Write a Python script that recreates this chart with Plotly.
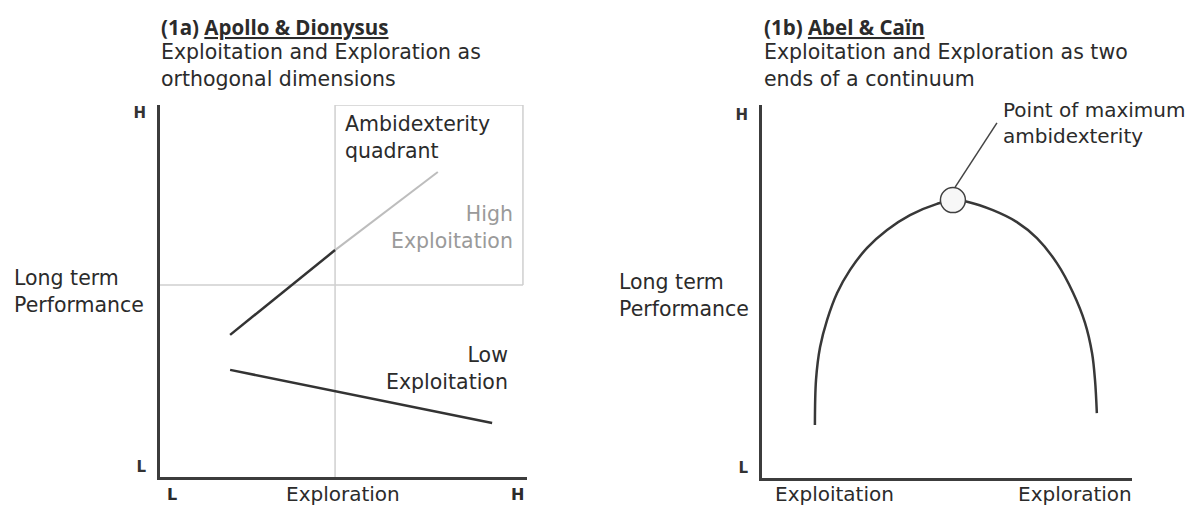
import plotly.graph_objects as go

W, H = 1202, 505
# the page body keeps the browser's default 8px margin, so the figure is
# made that much smaller and every position is measured from the window
OFF = 8
FW, FH = W - OFF, H - OFF

# Panel 1a: Apollo & Dionysus (units: L = 0, H = 10)
explore_rise_x = [1.91, 4.77]
explore_rise_y = [3.82, 6.10]
explore_rise_ext_x = [4.77, 7.57]
explore_rise_ext_y = [6.10, 8.20]
low_exploit_x = [1.91, 9.05]
low_exploit_y = [2.88, 1.45]
quad_split_x = 4.77
quad_split_y = 5.16
quad_right = 9.89
quad_top = 10.0

# Panel 1b: Abel & Cain (inverted U)
arc_x = [1.43, 1.46, 1.57, 1.76, 2.03, 2.38, 2.84, 3.38, 4.00, 4.73, 5.16,
         5.57, 6.24, 6.89, 7.43, 7.97, 8.41, 8.73, 8.92, 9.00, 9.05]
arc_y = [1.42, 2.63, 3.51, 4.24, 4.96, 5.58, 6.17, 6.65, 7.05, 7.35, 7.45,
         7.40, 7.18, 6.86, 6.43, 5.76, 4.96, 4.16, 3.35, 2.63, 1.74]
peak_x, peak_y = 5.16, 7.45
leader_x = [5.22, 6.35]
leader_y = [7.80, 9.52]

# Tick labels
lh_ticks = ["<b>L</b>", "<b>H</b>"]
left_y_vals = [0.27, 9.78]
left_x_vals = [0.33, 4.98, 9.73]
left_x_text = ["<b><span style='font-size:16px'>L</span></b>", "Exploration",
               "<b><span style='font-size:16px'>H</span></b>"]
right_y_vals = [0.27, 9.73]
right_x_vals = [1.95, 8.46]
right_x_text = ["Exploitation", "Exploration"]

FONT = "DejaVu Sans"
TFONT = "Open Sans"
SIZE = 20.5
DARK = "#2b2b2b"
AXIS = "#3c3c3c"
GRID = "#cfcfcf"


def pxx(x):
    return (x - OFF) / FW


def pxy(y):
    return 1 - (y - OFF) / FH


fig = go.Figure()

# quadrant guides (1a)
gray = dict(color=GRID, width=1.5)
fig.add_trace(go.Scatter(x=[quad_split_x, quad_split_x], y=[0, quad_top], mode="lines",
                         line=gray, xaxis="x", yaxis="y", cliponaxis=False))
fig.add_trace(go.Scatter(x=[0, quad_right], y=[quad_split_y, quad_split_y], mode="lines",
                         line=gray, xaxis="x", yaxis="y", cliponaxis=False))
fig.add_trace(go.Scatter(x=[quad_split_x, quad_right, quad_right],
                         y=[quad_top, quad_top, quad_split_y], mode="lines",
                         line=gray, xaxis="x", yaxis="y", cliponaxis=False))

fig.add_trace(go.Scatter(x=explore_rise_ext_x, y=explore_rise_ext_y, mode="lines",
                         line=dict(color="#bdbdbd", width=2), xaxis="x", yaxis="y"))
fig.add_trace(go.Scatter(x=explore_rise_x, y=explore_rise_y, mode="lines",
                         line=dict(color="#333333", width=2.5), xaxis="x", yaxis="y"))
fig.add_trace(go.Scatter(x=low_exploit_x, y=low_exploit_y, mode="lines",
                         line=dict(color="#333333", width=2.5), xaxis="x", yaxis="y"))

# inverted U (1b)
fig.add_trace(go.Scatter(x=arc_x, y=arc_y, mode="lines", line_shape="spline",
                         line=dict(color="#383838", width=2.5), xaxis="x2", yaxis="y2"))
fig.add_trace(go.Scatter(x=leader_x, y=leader_y, mode="lines",
                         line=dict(color="#444444", width=1.5), xaxis="x2", yaxis="y2",
                         cliponaxis=False))
fig.add_trace(go.Scatter(x=[peak_x], y=[peak_y], mode="markers",
                         marker=dict(size=25, color="#f7f7f7",
                                     line=dict(color="#404040", width=1.5)),
                         xaxis="x2", yaxis="y2"))

axis_common = dict(showgrid=False, zeroline=False, showline=True, linecolor=AXIS,
                   linewidth=3, ticks="", range=[0, 10], fixedrange=True,
                   tickfont=dict(family=FONT, size=15, color="#333333"))

fig.update_layout(
    width=FW, height=FH,
    margin=dict(l=0, r=0, t=0, b=0),
    paper_bgcolor="white", plot_bgcolor="white",
    showlegend=False,
    font=dict(family=FONT, size=SIZE, color=DARK),
    xaxis=dict(axis_common, domain=[pxx(160), pxx(527)], anchor="y", showticklabels=False),
    yaxis=dict(axis_common, domain=[pxy(477), pxy(105)], anchor="x",
               tickvals=left_y_vals, ticktext=lh_ticks, ticklabelstandoff=8),
    xaxis2=dict(axis_common, domain=[pxx(762), pxx(1132)], anchor="y2", showticklabels=False),
    yaxis2=dict(axis_common, domain=[pxy(478), pxy(105)], anchor="x2",
                tickvals=right_y_vals, ticktext=lh_ticks, ticklabelstandoff=8),
)


def note(text, x, y, xanchor="left", color=DARK, size=SIZE, family=FONT):
    fig.add_annotation(text=text, x=pxx(x), y=pxy(y), xref="paper", yref="paper",
                       xanchor=xanchor, yanchor="middle", align=xanchor,
                       showarrow=False,
                       font=dict(family=family, size=size, color=color))


# x-axis labels placed along each panel's own x scale
for xref, vals, labels in [("x", left_x_vals, left_x_text),
                           ("x2", right_x_vals, right_x_text)]:
    for v, t in zip(vals, labels):
        fig.add_annotation(text=t, x=v, xref=xref, y=pxy(494), yref="paper",
                           xanchor="center", yanchor="middle", showarrow=False,
                           font=dict(family=FONT, size=20, color=DARK))

# titles
note("<b>(1a) <u>Apollo & Dionysus</u></b>", 159, 27, size=20.5, family=TFONT)
note("Exploitation and Exploration as<br>orthogonal dimensions", 159, 66)
note("<b>(1b) <u>Abel & Caïn</u></b>", 762, 27, size=20.5, family=TFONT)
note("Exploitation and Exploration as two<br>ends of a continuum", 762, 66)

# y labels
note("Long term<br>Performance", 12, 291)
note("Long term<br>Performance", 617, 295)

# panel 1a labels
note("Ambidexterity<br>quadrant", 343, 138)
note("High<br>Exploitation", 515, 227, xanchor="right", color="#9a9a9a")
note("Low<br>Exploitation", 510, 368, xanchor="right")

# panel 1b labels
note("Point of maximum<br>ambidexterity", 1001, 123, size=20)

fig.write_html("out.html")
